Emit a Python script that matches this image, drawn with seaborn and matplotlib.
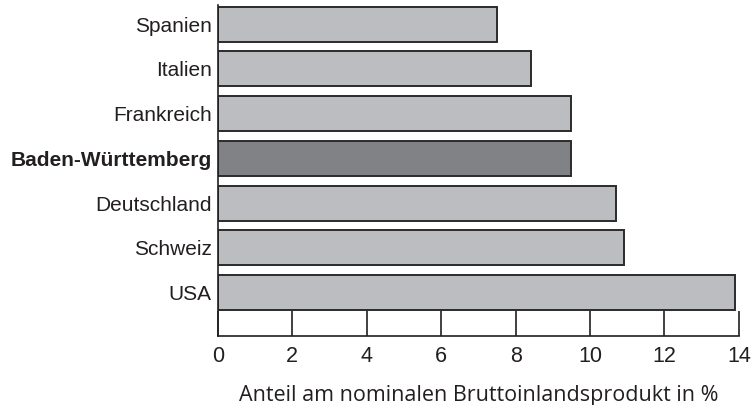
import matplotlib
matplotlib.use("Agg")
import matplotlib.pyplot as plt
import seaborn as sns
import pandas as pd

countries = ["Spanien", "Italien", "Frankreich", "Baden-Württemberg", "Deutschland", "Schweiz", "USA"]
values = [7.5, 8.4, 9.5, 9.5, 10.7, 10.9, 13.9]
xticks = [0, 2, 4, 6, 8, 10, 12, 14]
xlabel = "Anteil am nominalen Bruttoinlandsprodukt in %"
highlight = "Baden-Württemberg"

sns.set_theme(style="white")
plt.rcParams["font.family"] = ["Liberation Sans", "DejaVu Sans"]

df = pd.DataFrame({"land": countries, "wert": values})
palette = {c: ("#818285" if c == highlight else "#bcbdc0") for c in countries}

fig = plt.figure(figsize=(7.54, 4.05), dpi=100)
ax = fig.add_axes([0.289, 0.170, 0.691, 0.818])
sns.barplot(data=df, x="wert", y="land", hue="land", palette=palette, legend=False,
            width=0.78, edgecolor="#2b2b2b", linewidth=1.4, saturation=1, ax=ax)

ax.set_xlim(0, 14)
ax.set_ylim(6.97, -0.43)
ax.set_xticks(xticks)
ax.set_xticklabels([str(t) for t in xticks], fontsize=15.5, color="#231f20")
ax.tick_params(axis="x", direction="in", length=18, width=1.2, color="#231f20", pad=7, bottom=True)
ax.tick_params(axis="y", length=0, pad=4.5, labelsize=15, labelcolor="#231f20")
for lbl in ax.get_yticklabels():
    if lbl.get_text() == highlight:
        lbl.set_fontweight("bold")
ax.set_ylabel("")
ax.set_xlabel(xlabel, fontsize=15.5, color="#231f20", labelpad=13, family=["Open Sans", "DejaVu Sans"])
for s in ["top", "right"]:
    ax.spines[s].set_visible(False)
for s in ["left", "bottom"]:
    ax.spines[s].set_color("#231f20")
    ax.spines[s].set_linewidth(1.2)
ax.grid(False)

fig.savefig("out.png", dpi=100, facecolor="white")
